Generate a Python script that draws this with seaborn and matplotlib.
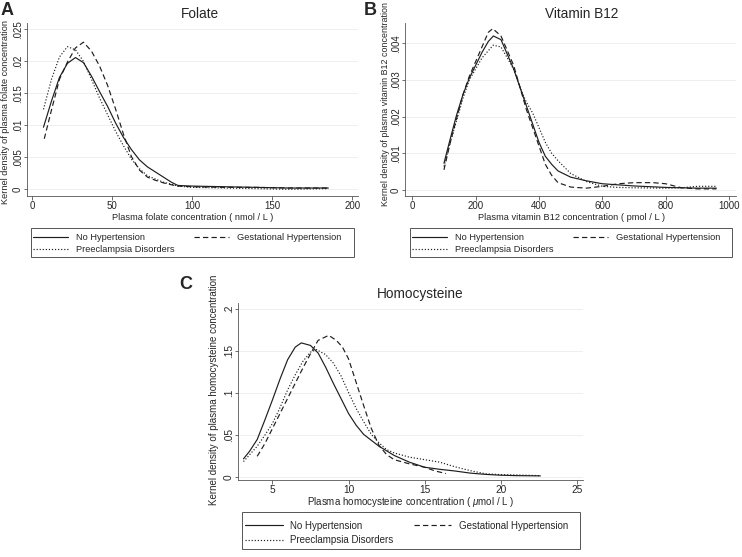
import pandas as pd
import matplotlib.pyplot as plt
import seaborn as sns
from matplotlib.patches import Rectangle
from matplotlib.lines import Line2D

# --- curve values (kernel densities) ---
groups = ['No Hypertension', 'Gestational Hypertension', 'Preeclampsia Disorders']

# A: folate (nmol/L)
fol_x_nh = [7, 12, 17, 22, 27, 32, 37, 42, 47, 52, 57, 62, 67, 72, 77, 82, 87, 91, 100, 120, 140, 160, 185]
fol_y_nh = [0.0097, 0.0138, 0.0175, 0.0197, 0.0206, 0.0198, 0.0177, 0.0153, 0.0130, 0.0104, 0.0081, 0.0062,
            0.0046, 0.0035, 0.0027, 0.0019, 0.0011, 0.0006, 0.0005, 0.0004, 0.0003, 0.0002, 0.0002]
fol_x_gh = [7.5, 12, 17, 22, 27, 32, 37, 42, 47, 52, 57, 62, 67, 72, 77, 82, 87, 91, 100, 120, 140, 160, 185]
fol_y_gh = [0.0079, 0.0124, 0.0172, 0.0199, 0.0221, 0.0230, 0.0216, 0.0193, 0.0163, 0.0126, 0.0086, 0.0051,
            0.0030, 0.0019, 0.0014, 0.0010, 0.0007, 0.0005, 0.0004, 0.0003, 0.0003, 0.0002, 0.0002]
fol_x_pe = [7, 12, 17, 22, 27, 32, 37, 42, 47, 52, 57, 62, 67, 72, 77, 82, 87, 91, 100, 120, 140, 160, 185]
fol_y_pe = [0.0125, 0.0172, 0.0207, 0.0223, 0.0218, 0.0200, 0.0172, 0.0143, 0.0117, 0.0091, 0.0068, 0.0047,
            0.0032, 0.0021, 0.0016, 0.0011, 0.0008, 0.0005, 0.0003, 0.0002, 0.0001, 0.0000, 0.0001]

# B: vitamin B12 (pmol/L)
b12_x_nh = [100, 120, 140, 160, 180, 200, 220, 240, 256, 280, 300, 320, 340, 360, 380, 400, 420, 440, 460,
            500, 550, 600, 700, 800, 900, 960]
b12_y_nh = [0.00073, 0.0014, 0.00205, 0.0026, 0.00305, 0.0034, 0.00375, 0.00405, 0.0042, 0.0041, 0.0037,
            0.0033, 0.0028, 0.0023, 0.0018, 0.0013, 0.00092, 0.0007, 0.00052, 0.00035, 0.00025, 0.00017,
            0.00011, 0.00007, 0.00005, 0.00005]
b12_x_gh = [100, 120, 140, 160, 180, 200, 220, 240, 254, 280, 300, 320, 340, 360, 380, 400, 420, 440, 460,
            500, 550, 600, 650, 700, 760, 800, 850, 900, 960]
b12_y_gh = [0.00055, 0.0013, 0.00195, 0.0026, 0.0031, 0.0035, 0.0039, 0.0043, 0.0044, 0.0042, 0.0038,
            0.0034, 0.0028, 0.0022, 0.0017, 0.0012, 0.0007, 0.0004, 0.0002, 0.00008, 0.00005, 0.0001,
            0.00017, 0.0002, 0.0002, 0.00017, 0.00006, 0.00003, 0.00003]
b12_x_pe = [100, 120, 140, 160, 180, 200, 220, 240, 256, 280, 300, 320, 340, 360, 380, 400, 420, 440, 460,
            500, 550, 600, 650, 700, 800, 850, 900, 960]
b12_y_pe = [0.00064, 0.0013, 0.0019, 0.0025, 0.003, 0.0033, 0.0036, 0.0038, 0.00395, 0.0039, 0.0036,
            0.0033, 0.0028, 0.0024, 0.0021, 0.0017, 0.0013, 0.001, 0.0008, 0.00045, 0.00023, 0.0001,
            0.00007, 0.00006, 0.00005, 0.00006, 0.0001, 0.0001]

# C: homocysteine (umol/L)
hcy_x_nh = [3.1, 3.5, 4, 4.5, 5, 5.5, 6, 6.5, 6.9, 7.5, 8, 8.5, 9, 9.5, 10, 10.5, 11, 12, 13, 14, 15, 16,
            17, 18, 19, 20, 21, 22.6]
hcy_y_nh = [0.022, 0.031, 0.045, 0.068, 0.092, 0.117, 0.140, 0.155, 0.160, 0.157, 0.148, 0.131, 0.112,
            0.094, 0.076, 0.062, 0.051, 0.037, 0.026, 0.018, 0.012, 0.0095, 0.0075, 0.005, 0.0035, 0.0025,
            0.002, 0.0017]
hcy_x_gh = [4.0, 4.5, 5, 5.5, 6, 6.5, 7, 7.5, 8, 8.7, 9.2, 9.6, 10, 10.5, 11, 11.5, 12, 12.5, 13, 14, 15,
            15.7, 16.4]
hcy_y_gh = [0.025, 0.04, 0.058, 0.076, 0.094, 0.112, 0.130, 0.147, 0.163, 0.169, 0.163, 0.155, 0.141,
            0.113, 0.085, 0.058, 0.038, 0.027, 0.021, 0.016, 0.012, 0.0075, 0.0045]
hcy_x_pe = [3.1, 4, 4.5, 5, 5.5, 6, 6.5, 7, 7.5, 7.9, 8.5, 9, 9.5, 10, 10.5, 11, 11.5, 12, 12.5, 13, 14,
            15, 16, 17, 18, 19, 20, 21, 22.6]
hcy_y_pe = [0.0187, 0.037, 0.050, 0.064, 0.083, 0.104, 0.122, 0.138, 0.149, 0.152, 0.146, 0.136, 0.121,
            0.101, 0.082, 0.066, 0.051, 0.041, 0.033, 0.029, 0.024, 0.021, 0.018, 0.0125, 0.0079, 0.0042,
            0.0032, 0.0028, 0.002]

# --- style ---
sns.set_style("ticks")
plt.rcParams['font.family'] = 'sans-serif'
plt.rcParams['font.sans-serif'] = ['Liberation Sans', 'DejaVu Sans']
plt.rcParams['mathtext.fontset'] = 'custom'
plt.rcParams['mathtext.rm'] = 'Liberation Sans'
plt.rcParams['mathtext.it'] = 'Liberation Sans:italic'

W, H = 742, 557
ink = '#1e1e1e'
axis_col = '#555555'
dash_map = {'No Hypertension': '', 'Gestational Hypertension': (4.5, 2.7), 'Preeclampsia Disorders': (1, 1.6)}

fig = plt.figure(figsize=(W / 100, H / 100), dpi=100)


def fx(px):
    return px / W


def fy(py):
    return 1 - py / H


def long_frame(xs, ys):
    parts = [pd.DataFrame({'x': x, 'density': y, 'group': g}) for g, x, y in zip(groups, xs, ys)]
    return pd.concat(parts, ignore_index=True)


def panel(box, data, xlim, ylim, xticks, yticks, ytick_labels, k=1.0):
    left, top, right, bottom = box
    ax = fig.add_axes([fx(left), fy(bottom), (right - left) / W, (bottom - top) / H])
    sns.lineplot(data=data, x='x', y='density', style='group', style_order=groups, dashes=dash_map,
                 color=ink, lw=0.85, estimator=None, sort=False, legend=False, ax=ax)
    ax.set_xlim(xlim)
    ax.set_ylim(ylim)
    ax.set_xticks(xticks)
    ax.set_yticks(yticks)
    ax.set_yticklabels(ytick_labels)
    ax.set_xlabel('')
    ax.set_ylabel('')
    ax.yaxis.grid(True, color='#ededed', lw=0.6)
    ax.set_axisbelow(True)
    for s in ['top', 'right']:
        ax.spines[s].set_visible(False)
    for s in ['left', 'bottom']:
        ax.spines[s].set_color(axis_col)
        ax.spines[s].set_linewidth(0.6)
    ax.tick_params(axis='x', direction='out', length=3, width=0.6, color=axis_col,
                   labelsize=7 * k, pad=0.8)
    ax.tick_params(axis='y', direction='out', length=2.2, width=0.6, color=axis_col,
                   labelsize=7 * k, pad=0.6, labelrotation=90)
    for t in ax.get_yticklabels():
        t.set_va('center')
    return ax


def legend_box(box, span, ymid, fs, hlen, hpad, lsp):
    x0, y0, x1, y1 = box
    fig.add_artist(Rectangle((fx(x0), fy(y1)), (x1 - x0) / W, (y1 - y0) / H, transform=fig.transFigure,
                             fill=False, ec=axis_col, lw=0.7))
    h_nh = Line2D([], [], color=ink, lw=0.85, linestyle='-')
    h_gh = Line2D([], [], color=ink, lw=0.85, dashes=dash_map['Gestational Hypertension'])
    h_pe = Line2D([], [], color=ink, lw=0.85, dashes=dash_map['Preeclampsia Disorders'])
    fig.legend([h_nh, h_pe, h_gh], [groups[0], groups[2], groups[1]], loc='center left',
               bbox_to_anchor=(fx(span[0]), fy(ymid), (span[1] - span[0]) / W, 0),
               bbox_transform=fig.transFigure, mode='expand', ncol=2, frameon=False,
               borderaxespad=0, borderpad=0, fontsize=fs, handlelength=hlen,
               handletextpad=hpad, labelspacing=lsp)


# --- A: Folate ---
panel((27, 23, 358, 196), long_frame([fol_x_nh, fol_x_gh, fol_x_pe], [fol_y_nh, fol_y_gh, fol_y_pe]),
      (-3.3, 203.6), (-0.00105, 0.026), [0, 50, 100, 150, 200],
      [0, 0.005, 0.01, 0.015, 0.02, 0.025], ['0', '.005', '.01', '.015', '.02', '.025'])
fig.text(fx(200), fy(13.5), 'Folate', fontsize=9.8, ha='center', va='center')
fig.text(fx(193), fy(218), 'Plasma folate concentration ( nmol / L )', fontsize=6.7, ha='center', va='center')
fig.text(fx(6), fy(112), 'Kernel density of plasma folate concentration', fontsize=6.6,
         rotation=90, ha='center', va='center')
fig.text(fx(0.5), fy(15), 'A', fontsize=13, fontweight='bold', ha='left', va='baseline')
legend_box((31, 228, 354, 257), (33, 341), 243.5, 6.7, 3.76, 0.86, 0.32)

# --- B: Vitamin B12 ---
panel((405, 23, 736, 196), long_frame([b12_x_nh, b12_x_gh, b12_x_pe], [b12_y_nh, b12_y_gh, b12_y_pe]),
      (-23, 1022), (-0.000164, 0.004554), [0, 200, 400, 600, 800, 1000],
      [0, 0.001, 0.002, 0.003, 0.004], ['0', '.001', '.002', '.003', '.004'])
fig.text(fx(582), fy(13.5), 'Vitamin B12', fontsize=9.8, ha='center', va='center')
fig.text(fx(571), fy(218), 'Plasma vitamin B12 concentration ( pmol / L )', fontsize=6.7,
         ha='center', va='center')
fig.text(fx(385), fy(104), 'Kernel density of plasma vitamin B12 concentration', fontsize=6.4,
         rotation=90, ha='center', va='center')
fig.text(fx(364), fy(15), 'B', fontsize=13, fontweight='bold', ha='left', va='baseline')
legend_box((410, 228, 732, 257), (412, 720), 243.5, 6.7, 3.76, 0.86, 0.32)

# --- C: Homocysteine ---
panel((238, 303, 583, 479.5), long_frame([hcy_x_nh, hcy_x_gh, hcy_x_pe], [hcy_y_nh, hcy_y_gh, hcy_y_pe]),
      (2.74, 25.4), (-0.0026, 0.2075), [5, 10, 15, 20, 25],
      [0, 0.05, 0.1, 0.15, 0.2], ['0', '.05', '.1', '.15', '.2'], k=1.04)
fig.text(fx(420), fy(294), 'Homocysteine', fontsize=9.8, ha='center', va='center')
fig.text(fx(410.5), fy(502), r'Plasma homocysteine concentration ( $\mu$mol / L )', fontsize=7,
         ha='center', va='center')
fig.text(fx(214), fy(390), 'Kernel density of plasma homocysteine concentration', fontsize=7,
         rotation=90, ha='center', va='center')
fig.text(fx(179), fy(289), 'C', fontsize=13, fontweight='bold', ha='left', va='baseline')
legend_box((242, 512, 580, 549), (245, 568), 533, 7, 3.9, 0.75, 0.5)

fig.savefig('out.png', dpi=100)
